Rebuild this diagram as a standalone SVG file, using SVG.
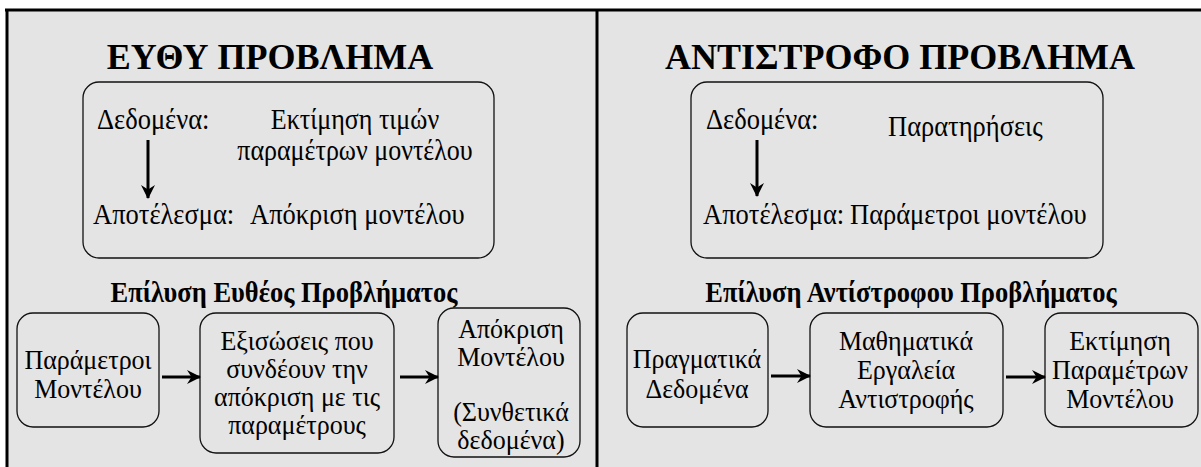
<svg xmlns="http://www.w3.org/2000/svg" width="1201" height="467" viewBox="0 0 1201 467">
<style>
.t{font-size:36px;font-weight:bold;text-anchor:middle}
.h{font-size:26.5px;font-weight:bold;text-anchor:middle}
.b{font-size:26.5px}
.c{font-size:26px;text-anchor:middle}
.box{fill:none;stroke:#111;stroke-width:1.3}
.ar{stroke:#000;stroke-width:3;fill:none}
</style>
<defs>
<marker id="ah" viewBox="0 0 14 14" refX="13" refY="7" markerWidth="14" markerHeight="14" orient="auto" markerUnits="userSpaceOnUse">
<path d="M0,0 L14,7 L0,14 L4.5,7 z" fill="#000"/>
</marker>
</defs>
<rect x="0" y="0" width="1201" height="467" fill="#ffffff"/>
<rect x="7" y="10" width="1194" height="457" fill="#e4e4e4"/>
<g id="frame" stroke="#000" stroke-width="3" fill="none">
<line x1="5" y1="10" x2="1201" y2="10"/>
<line x1="7" y1="9" x2="7" y2="467"/>
<line x1="597" y1="9" x2="597" y2="467"/>
</g>
<g font-family="Liberation Serif, Times New Roman, DejaVu Serif, serif" fill="#000">
<g id="left-title"><text class="t" x="270" y="69">ΕΥΘΥ ΠΡΟΒΛΗΜΑ</text></g>
<g id="left-def">
<rect class="box" x="83" y="82" width="411" height="176" rx="16"/>
<text class="b" transform="translate(97,129) scale(1,1.15)">Δεδομένα:</text>
<text class="c" transform="translate(355,129) scale(1,1.12)">Εκτίμηση τιμών</text>
<text class="c" transform="translate(355,160) scale(1,1.12)">παραμέτρων μοντέλου</text>
<text class="b" transform="translate(93,224) scale(1,1.15)">Αποτέλεσμα:</text>
<text class="b" transform="translate(250,224) scale(1,1.15)">Απόκριση μοντέλου</text>
</g>
<g id="left-heading"><text class="h" transform="translate(284,302) scale(1,1.12)">Επίλυση Ευθέος Προβλήματος</text></g>
<g id="node-params">
<rect class="box" x="17" y="313" width="142" height="114" rx="16"/>
<text class="c" transform="translate(88,369) scale(1,1.08)">Παράμετροι</text>
<text class="c" transform="translate(88,398) scale(1,1.08)">Μοντέλου</text>
</g>
<g id="node-equations">
<rect class="box" x="200" y="313" width="194" height="140" rx="16"/>
<text class="c" transform="translate(297,350) scale(1,1.05)">Εξισώσεις που</text>
<text class="c" transform="translate(297,378) scale(1,1.05)">συνδέουν την</text>
<text class="c" transform="translate(297,406) scale(1,1.05)">απόκριση με τις</text>
<text class="c" transform="translate(297,434) scale(1,1.05)">παραμέτρους</text>
</g>
<g id="node-response">
<rect class="box" x="438" y="308" width="142" height="149" rx="16"/>
<text class="c" transform="translate(511,338) scale(1,1.05)">Απόκριση</text>
<text class="c" transform="translate(511,366) scale(1,1.05)">Μοντέλου</text>
<text class="c" transform="translate(511,421) scale(1,1.05)">(Συνθετικά</text>
<text class="c" transform="translate(511,449) scale(1,1.05)">δεδομένα)</text>
</g>
<g id="right-title"><text class="t" x="900" y="69">ΑΝΤΙΣΤΡΟΦΟ ΠΡΟΒΛΗΜΑ</text></g>
<g id="right-def">
<rect class="box" x="691" y="82" width="412" height="176" rx="16"/>
<text class="b" transform="translate(706,129) scale(1,1.15)">Δεδομένα:</text>
<text class="b" transform="translate(888,136) scale(1,1.15)">Παρατηρήσεις</text>
<text class="b" transform="translate(703,224) scale(1,1.15)">Αποτέλεσμα:</text>
<text class="b" transform="translate(850,224) scale(1,1.15)">Παράμετροι μοντέλου</text>
</g>
<g id="right-heading"><text class="h" transform="translate(911,302) scale(1,1.12)">Επίλυση Αντίστροφου Προβλήματος</text></g>
<g id="node-realdata">
<rect class="box" x="627" y="313" width="141" height="114" rx="16"/>
<text class="c" transform="translate(697,368) scale(1,1.08)">Πραγματικά</text>
<text class="c" transform="translate(697,398) scale(1,1.08)">Δεδομένα</text>
</g>
<g id="node-tools">
<rect class="box" x="810" y="313" width="193" height="114" rx="16"/>
<text class="c" transform="translate(906,350) scale(1,1.07)">Μαθηματικά</text>
<text class="c" transform="translate(906,379) scale(1,1.07)">Εργαλεία</text>
<text class="c" transform="translate(906,408) scale(1,1.07)">Αντιστροφής</text>
</g>
<g id="node-estimate">
<rect class="box" x="1045" y="313" width="153" height="114" rx="16"/>
<text class="c" transform="translate(1120,350) scale(1,1.07)">Εκτίμηση</text>
<text class="c" transform="translate(1120,379) scale(1,1.07)">Παραμέτρων</text>
<text class="c" transform="translate(1120,408) scale(1,1.07)">Μοντέλου</text>
</g>
</g>
<g id="connectors">
<line class="ar" x1="148" y1="140" x2="148" y2="198" stroke-width="2.5" marker-end="url(#ah)"/>
<line class="ar" x1="757" y1="140" x2="757" y2="196" stroke-width="2.5" marker-end="url(#ah)"/>
<line class="ar" x1="162" y1="377" x2="200" y2="377" marker-end="url(#ah)"/>
<line class="ar" x1="400" y1="377" x2="438" y2="377" marker-end="url(#ah)"/>
<line class="ar" x1="771" y1="376" x2="810" y2="376" marker-end="url(#ah)"/>
<line class="ar" x1="1006" y1="377" x2="1045" y2="377" marker-end="url(#ah)"/>
</g>
</svg>
